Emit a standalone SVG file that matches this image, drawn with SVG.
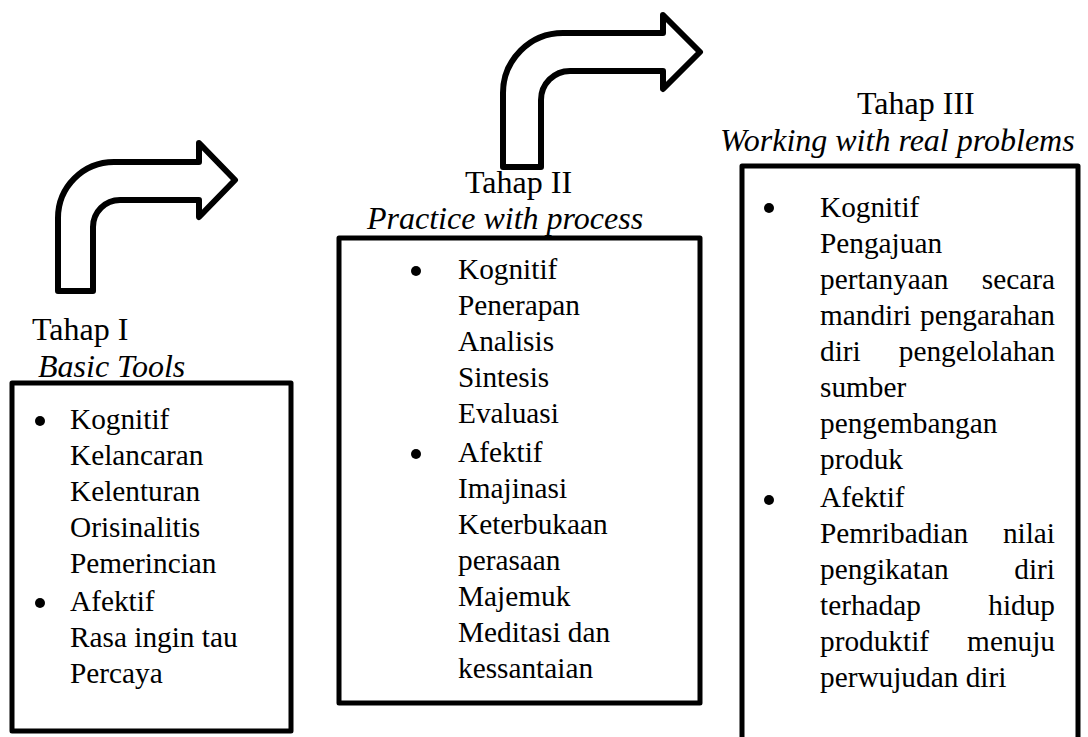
<svg xmlns="http://www.w3.org/2000/svg" width="1088" height="737" viewBox="0 0 1088 737">
<style>
.box{fill:#fff;stroke:#000;stroke-width:5;stroke-linejoin:round}
.arr{fill:#fff;stroke:#000;stroke-width:6;stroke-linejoin:round}
.t{font-family:"Liberation Serif","Times New Roman",serif;font-size:29.3px;fill:#000}
.h{font-family:"Liberation Serif","Times New Roman",serif;font-size:32px;fill:#000}
.i{font-style:italic}
.e{text-anchor:end}
.b{fill:#000}
</style>
<rect width="1088" height="737" fill="#fff"/>
<g id="connectors">
<path class="arr" d="M58,291 V218 A56,56 0 0 1 114,162 H199 V143 L235,180 L199,217 V200 H120 A27,27 0 0 0 93,227 V291 Z"/>
<path class="arr" d="M503,167 V93 A60,60 0 0 1 563,33 H663 V15 L700,52 L663,89 V71 H570 A29,29 0 0 0 541,100 V167 Z"/>
</g>
<g id="tahap1">
<text class="h" x="32" y="340">Tahap I</text>
<text class="h i" x="38" y="377">Basic Tools</text>
<rect class="box" x="12" y="383" width="279" height="348"/>
<circle class="b" cx="40" cy="421" r="5"/>
<circle class="b" cx="40" cy="603" r="5"/>
<text class="t" x="70" y="429">Kognitif</text>
<text class="t" x="70" y="465">Kelancaran</text>
<text class="t" x="70" y="501">Kelenturan</text>
<text class="t" x="70" y="537">Orisinalitis</text>
<text class="t" x="70" y="573">Pemerincian</text>
<text class="t" x="70" y="611">Afektif</text>
<text class="t" x="70" y="647">Rasa ingin tau</text>
<text class="t" x="70" y="683">Percaya</text>
</g>
<g id="tahap2">
<rect class="box" x="339" y="238" width="361" height="465"/>
<text class="h" x="465" y="193">Tahap II</text>
<text class="h i" x="367" y="229">Practice with process</text>
<circle class="b" cx="416" cy="271" r="5"/>
<circle class="b" cx="416" cy="454" r="5"/>
<text class="t" x="458" y="279">Kognitif</text>
<text class="t" x="458" y="315">Penerapan</text>
<text class="t" x="458" y="351">Analisis</text>
<text class="t" x="458" y="387">Sintesis</text>
<text class="t" x="458" y="423">Evaluasi</text>
<text class="t" x="458" y="462">Afektif</text>
<text class="t" x="458" y="498">Imajinasi</text>
<text class="t" x="458" y="534">Keterbukaan</text>
<text class="t" x="458" y="570">perasaan</text>
<text class="t" x="458" y="606">Majemuk</text>
<text class="t" x="458" y="642">Meditasi dan</text>
<text class="t" x="458" y="678">kessantaian</text>
</g>
<g id="tahap3">
<rect class="box" x="742" y="166" width="336" height="590"/>
<text class="h" x="857" y="114">Tahap III</text>
<text class="h i" x="720" y="151">Working with real problems</text>
<circle class="b" cx="769" cy="208" r="5"/>
<circle class="b" cx="769" cy="500" r="5"/>
<text class="t" x="820" y="217">Kognitif</text>
<text class="t" x="820" y="253">Pengajuan</text>
<text class="t" x="820" y="289">pertanyaan</text><text class="t e" x="1055" y="289">secara</text>
<text class="t" x="820" y="325">mandiri</text><text class="t e" x="1055" y="325">pengarahan</text>
<text class="t" x="820" y="361">diri</text><text class="t e" x="1055" y="361">pengelolahan</text>
<text class="t" x="820" y="397">sumber</text>
<text class="t" x="820" y="433">pengembangan</text>
<text class="t" x="820" y="469">produk</text>
<text class="t" x="820" y="507">Afektif</text>
<text class="t" x="820" y="543">Pemribadian</text><text class="t e" x="1055" y="543">nilai</text>
<text class="t" x="820" y="579">pengikatan</text><text class="t e" x="1055" y="579">diri</text>
<text class="t" x="820" y="615">terhadap</text><text class="t e" x="1055" y="615">hidup</text>
<text class="t" x="820" y="651">produktif</text><text class="t e" x="1055" y="651">menuju</text>
<text class="t" x="820" y="687">perwujudan diri</text>
</g>
</svg>
